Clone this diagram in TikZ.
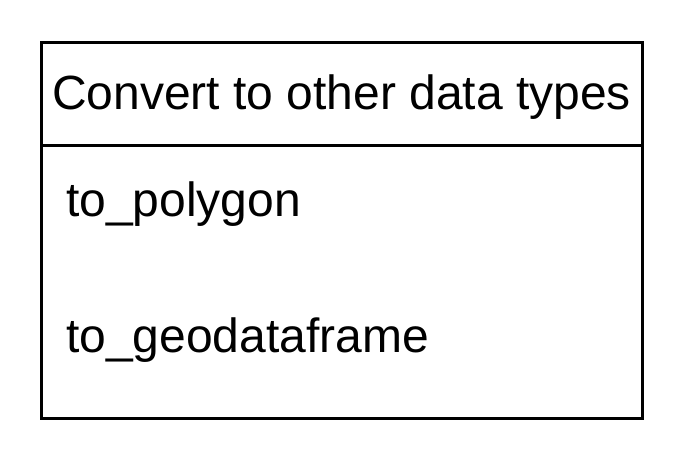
\documentclass[tikz,border=0pt]{standalone}
\usepackage{fontspec}
\setmainfont{Liberation Sans}
\begin{document}
\begin{tikzpicture}[x=1pt,y=-1pt,
  box/.style={draw=black,line width=3pt},
  lbl/.style={inner sep=0pt,font=\fontsize{48}{56}\selectfont}]
\useasboundingbox[fill=white] (0,0) rectangle (684,472);
\draw[box] (41,42) rectangle (642,418);
\draw[box] (41,145) -- (642,145);
\node[lbl] (title) at (341.5,97) {Convert to other data types};
\node[lbl,anchor=base west] (a) at (66,216) {to\_polygon};
\node[lbl,anchor=base west] (b) at (66,352) {to\_geodataframe};
\end{tikzpicture}
\end{document}
